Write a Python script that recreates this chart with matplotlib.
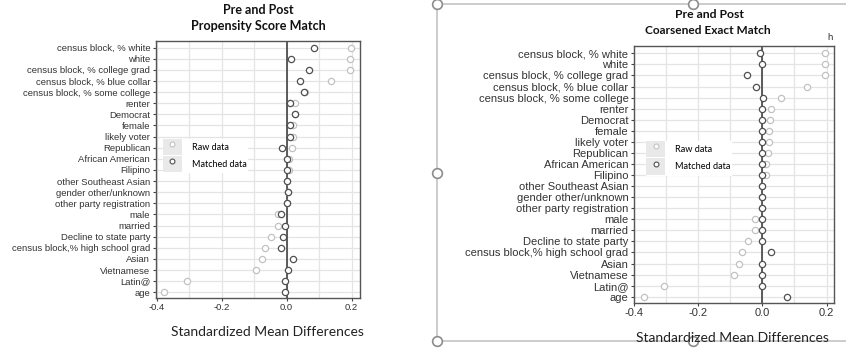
import numpy as np
import matplotlib.pyplot as plt
from matplotlib.patches import Rectangle
from matplotlib.lines import Line2D
from matplotlib.legend_handler import HandlerTuple

plt.rcParams['axes.unicode_minus'] = False

covariates = ["census block, % white", "white", "census block, % college grad",
              "census block, % blue collar", "census block, % some college",
              "renter", "Democrat", "female", "likely voter", "Republican",
              "African American", "Filipino", "other Southeast Asian",
              "gender other/unknown", "other party registration", "male",
              "married", "Decline to state party",
              "census block,% high school grad", "Asian", "Vietnamese",
              "Latin@", "age"]

# propensity score match
ps_raw = [0.197, 0.195, 0.195, 0.137, 0.056, 0.025, 0.025, 0.020, 0.020, 0.016,
          0.008, 0.008, 0.000, 0.004, 0.000, -0.025, -0.025, -0.047, -0.065,
          -0.075, -0.094, -0.308, -0.376]
ps_matched = [0.083, 0.014, 0.069, 0.040, 0.054, 0.011, 0.025, 0.011, 0.011,
              -0.014, 0.000, 0.000, 0.000, 0.004, 0.000, -0.018, -0.005, -0.010,
              -0.016, 0.020, 0.004, -0.005, -0.005]

# coarsened exact match
cem_raw = [0.195, 0.195, 0.195, 0.138, 0.057, 0.026, 0.024, 0.021, 0.021, 0.019,
           0.010, 0.010, 0.000, 0.000, 0.000, -0.023, -0.023, -0.046, -0.062,
           -0.074, -0.090, -0.306, -0.370]
cem_matched = [-0.007, 0.000, -0.049, -0.020, 0.003, 0.000, 0.000, 0.000, 0.000,
               0.000, 0.000, 0.000, 0.000, 0.000, 0.000, 0.000, 0.000, 0.000,
               0.027, 0.000, 0.000, 0.000, 0.076]

xticks = [-0.4, -0.2, 0.0, 0.2]
xminor = [-0.3, -0.1, 0.1]

raw_col = '#c2c2c2'
match_col = '#505050'
W, H = 846, 349

fig = plt.figure(figsize=(W / 100, H / 100), dpi=100)


def love_plot(rect, raw, matched, xlim, ylim, fs, leg_anchor, leg_fs):
    ax = fig.add_axes(rect)
    y = np.arange(len(covariates))
    ax.set_xlim(*xlim)
    ax.set_ylim(*ylim)
    ax.set_xticks(xticks)
    ax.set_xticks(xminor, minor=True)
    ax.set_xticklabels(["%.1f" % t for t in xticks], fontsize=fs,
                       family='Liberation Sans', color='#333333')
    ax.set_yticks(y)
    ax.set_yticklabels(covariates, fontsize=fs, family='Liberation Sans',
                       color='#333333')
    ax.tick_params(axis='both', which='major', length=2.5, width=0.8,
                   color='#444444', pad=1.5)
    ax.tick_params(axis='x', which='minor', length=0)
    ax.grid(True, which='both', color='#e4e4e4', linewidth=0.9)
    ax.set_axisbelow(True)
    for sp in ax.spines.values():
        sp.set_color('#555555')
        sp.set_linewidth(1.0)
    ax.axvline(0, color='#333333', linewidth=1.1, zorder=1.5)
    ax.plot(raw, y, 'o', ms=4.5, mfc='white', mec=raw_col, mew=0.9, zorder=3)
    ax.plot(matched, y, 'o', ms=4.5, mfc='white', mec=match_col, mew=0.9,
            zorder=4)
    raw_h = (Rectangle((0, 0), 1, 1, fc='#e9e9e9', ec='none'),
             Line2D([], [], ls='', marker='o', ms=3.5, mfc='white',
                    mec=raw_col, mew=0.8))
    mat_h = (Rectangle((0, 0), 1, 1, fc='#e9e9e9', ec='none'),
             Line2D([], [], ls='', marker='o', ms=3.5, mfc='white',
                    mec=match_col, mew=0.8))
    leg = ax.legend([raw_h, mat_h], ["Raw data", "Matched data"],
                    handler_map={tuple: HandlerTuple(ndivide=1, pad=0)},
                    loc='upper left', bbox_to_anchor=leg_anchor,
                    borderpad=0.0, borderaxespad=0.0, handlelength=2.1,
                    handleheight=2.35, handletextpad=1.1, labelspacing=0.12,
                    frameon=True, fancybox=False, framealpha=1,
                    facecolor='white', edgecolor='white',
                    prop={'family': 'Lato', 'size': leg_fs})
    leg.set_zorder(5)
    return ax


love_plot([155.7 / W, (H - 297.7) / H, 204.3 / W, 256.7 / H],
          ps_raw, ps_matched, (-0.403, 0.226), (22.49, -0.6), 6.8,
          (7.3 / 204.3, (297.7 - 139) / 256.7), 6.5)
love_plot([634 / W, (H - 302.7) / H, 200.3 / W, 257 / H],
          cem_raw, cem_matched, (-0.4, 0.224), (22.54, -0.69), 8.0,
          (12 / 200.3, (302.7 - 141) / 257), 6.6)

# titles and axis labels
fig.text(258 / W, 1 - 9.5 / H, "Pre and Post", ha='center', va='center',
         family='Lato', weight='bold', fontsize=9.0, color='#111111')
fig.text(258 / W, 1 - 26 / H, "Propensity Score Match", ha='center',
         va='center', family='Lato', weight='bold', fontsize=9.1,
         color='#111111')
fig.text(709 / W, 1 - 14 / H, "Pre and Post", ha='center', va='center',
         family='Lato', weight='bold', fontsize=8.8, color='#111111')
fig.text(707.5 / W, 1 - 31 / H, "Coarsened Exact Match", ha='center',
         va='center', family='Lato', weight='bold', fontsize=8.6,
         color='#111111')
fig.text(267.5 / W, 1 - 331.7 / H, "Standardized Mean Differences",
         ha='center', va='center', family='Lato', fontsize=10, color='#222222')
fig.text(732 / W, 1 - 337.7 / H, "Standardized Mean Differences",
         ha='center', va='center', family='Lato', fontsize=10, color='#222222')
fig.text(830 / W, 1 - 38 / H, "h", ha='center', va='center',
         family='Lato', fontsize=7, color='#333333')

# selection frame around the right chart
frame_col = '#c4c4c4'
fig.add_artist(Line2D([437 / W, 1], [1 - 4 / H, 1 - 4 / H], color=frame_col,
                      lw=1.2, transform=fig.transFigure))
fig.add_artist(Line2D([437 / W, 437 / W], [1 - 4 / H, 1 - 341 / H],
                      color=frame_col, lw=1.2, transform=fig.transFigure))
fig.add_artist(Line2D([437 / W, 1], [1 - 341 / H, 1 - 341 / H],
                      color=frame_col, lw=1.2, transform=fig.transFigure))
for hx, hy in [(437, 4), (693, 4), (437, 173), (437, 341), (693, 341)]:
    fig.add_artist(Line2D([hx / W], [1 - hy / H], ls='', marker='o', ms=7,
                          mfc='white', mec='#8c8c8c', mew=1.2,
                          transform=fig.transFigure))

fig.savefig('out.png', dpi=100)
